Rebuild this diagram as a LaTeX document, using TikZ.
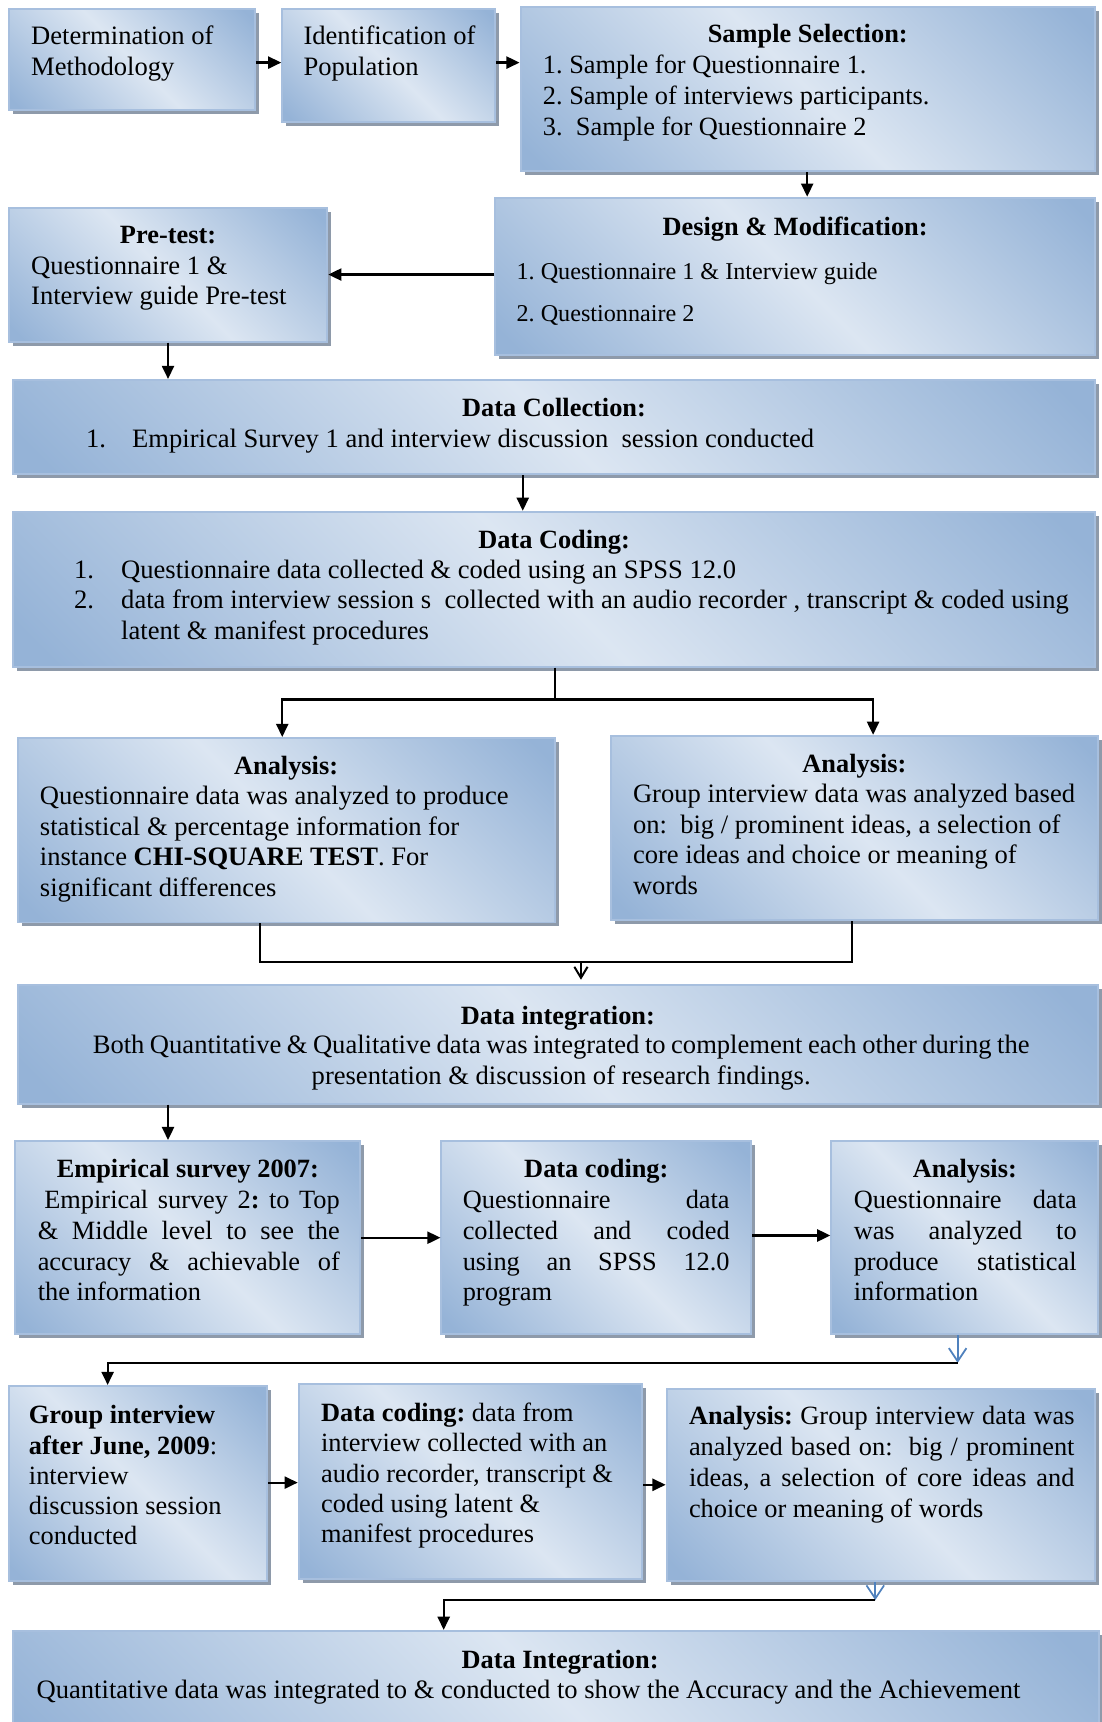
\documentclass[tikz,border=0pt]{standalone}
\usepackage{fontspec}
\setmainfont{Liberation Serif}
\usetikzlibrary{arrows.meta,shadows,fit,calc}
\frenchspacing

\definecolor{boxblue}{RGB}{149,179,215}
\definecolor{boxlight}{RGB}{220,230,242}
\definecolor{boxborder}{RGB}{167,191,222}
\definecolor{boxshadow}{RGB}{142,154,170}
\definecolor{tipblue}{RGB}{79,129,189}

% diagonal fill: blue corners, light band along the main diagonal
\pgfdeclarehorizontalshading{panelshade}{100bp}{color(0bp)=(boxblue); color(17bp)=(boxblue); color(50bp)=(boxlight); color(83bp)=(boxblue); color(100bp)=(boxblue)}

\tikzset{
  panel/.style={draw=boxborder, line width=0.9pt, shading=panelshade, shading angle=45,
    inner sep=0pt, drop shadow={shadow xshift=1.8pt, shadow yshift=-1.8pt, fill=boxshadow, opacity=1}},
  txt/.style={inner sep=0pt, anchor=base west, align=flush left, text width=480pt,
    font=\fontsize{12.1}{14}\selectfont},
  jtxt/.style={inner sep=0pt, anchor=base west, align=justify, text width=#1,
    font=\fontsize{12}{14}\selectfont},
  ttl/.style={inner sep=0pt, anchor=base, font=\fontsize{12}{14}\selectfont\bfseries},
  link/.style={line width=1pt, -{Triangle[length=6pt,width=5.5pt]}},
  plain/.style={line width=1pt},
  vlink/.style={line width=0.9pt, -{Straight Barb[length=5pt,width=6pt]}},
  barb/.style={draw=tipblue, line width=0.8pt, -{Straight Barb[length=6pt,width=8pt]}},
}

% box from its north-west corner to its south-east corner
\newcommand\panelbox[5]{%
  \path (#2,#3) coordinate (#1-nw) (#4,#5) coordinate (#1-se);
  \node[panel, fit=(#1-nw)(#1-se)] (#1) {};}

\begin{document}
\begin{tikzpicture}[x=0.5pt, y=-0.5pt]
\useasboundingbox (0,0) rectangle (1003,1568);

% ---------- boxes ----------
\panelbox{b1}{8}{8}{232}{100}
\panelbox{b2}{257}{8}{451}{111}
\panelbox{b3}{474}{6}{997}{156}
\panelbox{b4}{451}{180}{997}{323}
\panelbox{b5}{8}{189}{298}{311}
\panelbox{b6}{12}{346}{997}{432}
\panelbox{b7}{12}{466}{997}{607}
\panelbox{b8}{16}{672}{505}{840}
\panelbox{b9}{556}{670}{1000}{838}
\panelbox{b10}{16}{897}{1000}{1005}
\panelbox{b11}{14}{1039}{328}{1215}
\panelbox{b12}{402}{1039}{684}{1215}
\panelbox{b13}{757}{1039}{1000}{1215}
\panelbox{b14}{8}{1262}{243}{1440}
\panelbox{b15}{272}{1260}{585}{1438}
\panelbox{b16}{607}{1265}{997}{1440}
\panelbox{b17}{12}{1485}{1001}{1600}

% ---------- texts ----------
\begin{scope}[yshift=-1.25pt]
\node[txt] (t1) at (28,38) {Determination of\\Methodology};
\node[txt] (t2) at (276,38) {Identification of\\Population};

\node[ttl] (h3) at (735.5,36) {Sample Selection:};
\node[txt, font=\fontsize{12}{14.25}\selectfont] (t3) at (494,64)
  {1. Sample for Questionnaire 1.\\2. Sample of interviews participants.\\3.\ \ Sample for Questionnaire 2};

\node[ttl] (h4) at (724,212) {Design \& Modification:};
\node[txt, font=\fontsize{11}{19}\selectfont] (t4) at (470,252)
  {1. Questionnaire 1 \& Interview guide\\2. Questionnaire 2};

\node[ttl] (h5) at (153,219) {Pre-test:};
\node[txt] (t5) at (28,247) {Questionnaire 1 \&\\Interview guide Pre-test};

\node[ttl] (h6) at (504.5,377) {Data Collection:};
\node[txt] (t6) at (78,405)
  {\makebox[21pt][l]{1.}Empirical Survey 1 and interview discussion\ \ session conducted};

\node[ttl] (h7) at (504.5,497) {Data Coding:};
\node[txt] (t7) at (67,524)
  {\makebox[21.5pt][l]{1.}Questionnaire data collected \& coded using an SPSS 12.0\\
   \makebox[21.5pt][l]{2.}data from interview session s\ \ collected with an audio recorder , transcript \& coded using\\
   \hspace*{21.5pt}latent \& manifest procedures};

\node[ttl] (h8) at (260.5,703) {Analysis:};
\node[txt] (t8) at (36,730)
  {Questionnaire data was analyzed to produce\\statistical \& percentage information for\\
   instance \textbf{CHI-SQUARE TEST}. For\\significant differences};

\node[ttl] (h9) at (778,701) {Analysis:};
\node[txt] (t9) at (576,728)
  {Group interview data was analyzed based\\on:\ \ big / prominent ideas, a selection of\\
   core ideas and choice or meaning of\\words};

\node[ttl] (h10) at (508,930) {Data integration:};
\node[txt, align=flush center, anchor=base, text width=480pt] (t10) at (511,957)
  {{\spaceskip=2.5pt plus 0.5pt Both Quantitative \& Qualitative data was integrated to complement each other during the}\\
   presentation \& discussion of research findings.};

\node[ttl] (h11) at (171,1070) {Empirical survey 2007:};
\node[jtxt=137.5pt] (t11) at (34,1098)
  {\hspace*{3pt}Empirical survey 2\textbf{:} to Top\linebreak
   \& Middle level to see the\linebreak accuracy \& achievable of\linebreak the information};

\node[ttl] (h12) at (543,1070) {Data coding:};
\node[jtxt=121.5pt] (t12) at (421,1098)
  {Questionnaire data\linebreak collected and coded\linebreak using an SPSS 12.0\linebreak program};

\node[ttl] (h13) at (878.5,1070) {Analysis:};
\node[jtxt=101.5pt] (t13) at (777,1098)
  {Questionnaire data\linebreak was analyzed to\linebreak produce statistical\linebreak information};

\node[txt, font=\fontsize{12}{13.75}\selectfont] (t14) at (26,1294)
  {\textbf{Group interview}\\\textbf{after June, 2009}:\\interview\\discussion session\\conducted};

\node[txt, font=\fontsize{12}{13.8}\selectfont] (t15) at (292,1292)
  {\textbf{Data coding:} data from\\interview collected with an\\audio recorder, transcript \&\\
   coded using latent \&\\manifest procedures};

\node[jtxt=175.5pt] (t16) at (627,1295)
  {\textbf{Analysis:} Group interview data was\linebreak analyzed based on:\ \ big / prominent\linebreak
   ideas, a selection of core ideas and\linebreak choice or meaning of words};

\node[ttl] (h17) at (510,1517) {Data Integration:};
\node[txt] (t17) at (33,1544)
  {Quantitative data was integrated to \& conducted to show the Accuracy and the Achievement};
\end{scope}

% ---------- connectors ----------
\coordinate (r12) at (0,57);
\draw[link] (b1.east |- r12) -- (b2.west |- r12);
\draw[link] (b2.east |- r12) -- (b3.west |- r12);

\coordinate (c34) at (735,0);
\draw[link] (b3.south -| c34) -- (b4.north -| c34);

\coordinate (r45) at (0,250);
\draw[link] (b4.west |- r45) -- (b5.east |- r45);

\draw[link] (b5.south) -- (b6.north -| b5.south);

\coordinate (c67) at (476,0);
\draw[link] (b6.south -| c67) -- (b7.north -| c67);

% split towards the two analyses
\coordinate (sp) at (505,637);
\coordinate (x8) at (257,0);
\coordinate (x9) at (795,0);
\draw[plain] (b7.south -| sp) -- (sp);
\draw[link] (sp) -| (b8.north -| x8);
\draw[link] (sp) -| (b9.north -| x9);

% merge into the integration box
\coordinate (mg) at (0,876);
\coordinate (x8b) at (237,0);
\coordinate (x9b) at (776,0);
\coordinate (xm) at (529,0);
\draw[plain] (b8.south -| x8b) |- (mg -| x9b) -- (b9.south -| x9b);
\draw[vlink, shorten >=2pt] (mg -| xm) -- (b10.north -| xm);

\coordinate (x153) at (153,0);
\draw[link] (b10.south -| x153) -- (b11.north -| x153);

\coordinate (r1112) at (0,1127);
\draw[link] (b11.east |- r1112) -- (b12.west |- r1112);
\coordinate (r1213) at (0,1125);
\draw[link] (b12.east |- r1213) -- (b13.west |- r1213);

\coordinate (j13) at (872,1241);
\coordinate (x98) at (98,0);
\draw[barb] (b13.south -| j13) -- (j13);
\draw[link] (j13) -| (b14.north -| x98);

\coordinate (r1415) at (0,1350);
\draw[link] (b14.east |- r1415) -- (b15.west |- r1415);
\coordinate (r1516) at (0,1352);
\draw[link] (b15.east |- r1516) -- (b16.west |- r1516);

\coordinate (j16) at (797,1457);
\coordinate (x404) at (404,0);
\draw[barb] (b16.south -| j16) -- (j16);
\draw[link] (j16) -| (b17.north -| x404);
\end{tikzpicture}
\end{document}
